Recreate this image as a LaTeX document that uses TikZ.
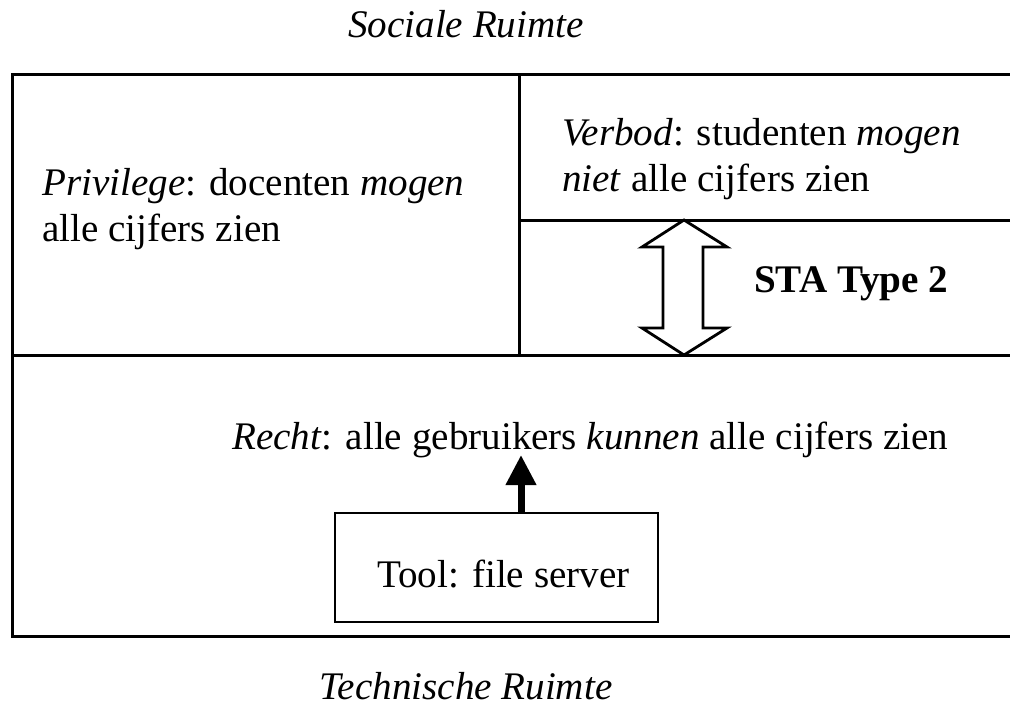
\documentclass[tikz,border=0pt]{standalone}
\usepackage{fontspec}
\setmainfont{Liberation Serif}
\usetikzlibrary{arrows.meta}
\begin{document}
\begin{tikzpicture}[x=1pt,y=-1pt,
  frameline/.style={line width=3pt},
  lbl/.style={inner sep=0pt, font=\fontsize{39.1}{46}\selectfont, align=left},
  itlbl/.style={lbl, font=\fontsize{39.1}{46}\selectfont\itshape},
  bflbl/.style={lbl, font=\fontsize{39.1}{46}\selectfont\bfseries},
  toolbox/.style={draw, line width=2.5pt, minimum width=323pt, minimum height=109pt, inner sep=0pt},
  fatarrow/.style={line width=7pt, -{Triangle[width=29pt,length=30pt]}},
  hollowarrow/.style={line width=2.8pt, fill=white, line join=miter}
]
\useasboundingbox (0,0) rectangle (1010,706);
% frame
\draw[frameline] (1010,75) -- (12,75) -- (12,636) -- (1010,636);
\draw[frameline] (12,355) -- (1010,355);
\draw[frameline] (519,75) -- (519,355);
\draw[frameline] (519,220) -- (1010,220);
% titles
\node[itlbl, anchor=base] (soc) at (466,38) {Sociale Ruimte};
\node[itlbl, anchor=base] (tech) at (466,699) {Technische Ruimte};
% texts (base anchor = baseline of last line)
\node[lbl, anchor=base west] (priv) at (42,241) {\textit{Privilege}: docenten \textit{mogen}\\alle cijfers zien};
\node[lbl, anchor=base west] (verb) at (562,192) {\textit{Verbod}: studenten \textit{mogen}\\\textit{niet} alle cijfers zien};
\node[bflbl, anchor=base west] (sta) at (754,292) {STA Type 2};
\node[lbl, anchor=base west] (recht) at (232,449) {\textit{Recht}: alle gebruikers \textit{kunnen} alle cijfers zien};
% tool
\node[toolbox] (tool) at (496.5,567.5) {};
\node[lbl, anchor=base west] (tooltext) at (377,587) {Tool: file server};
% arrow tool -> recht
\coordinate (atip) at (521,455);
\draw[fatarrow] (tool.north -| atip) -- (atip);
% double hollow arrow between Verbod box and bottom box
\coordinate (vb) at (684,220);
\coordinate (bt) at (684,355);
\draw[hollowarrow] (vb) -- ++(43,27) -- ++(-24,0) -- ++(0,81) -- ++(24,0) -- (bt) -- ++(-42,-27) -- ++(21,0) -- ++(0,-81) -- ++(-21,0) -- cycle;
\end{tikzpicture}
\end{document}
